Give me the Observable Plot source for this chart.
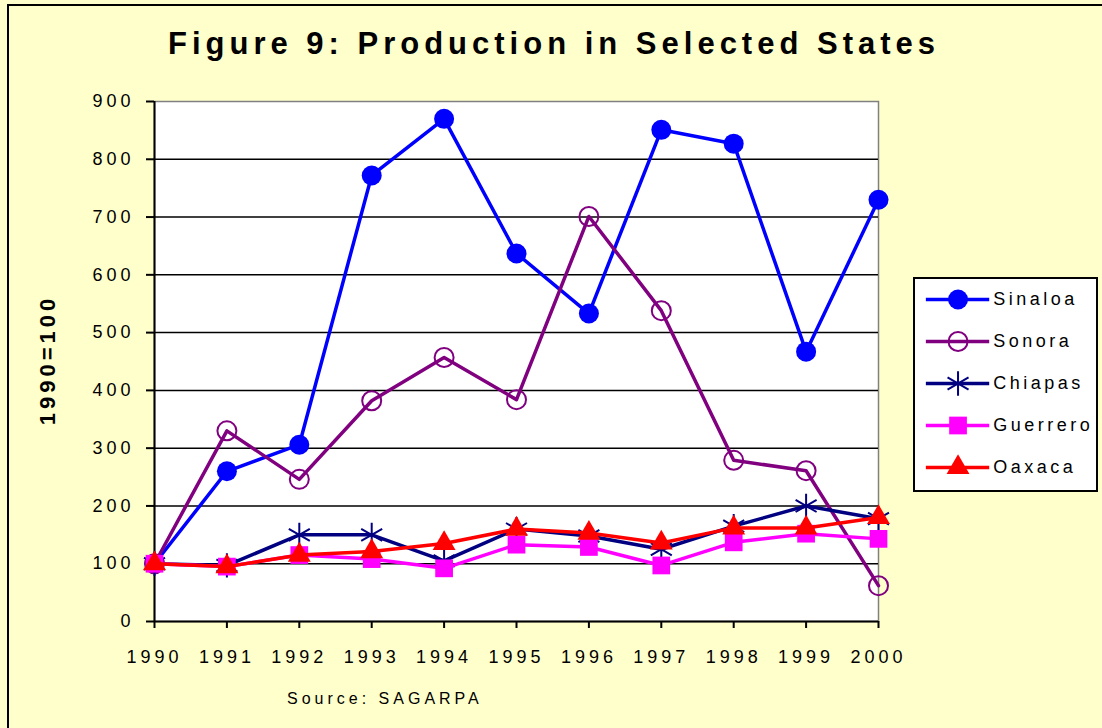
<!DOCTYPE html>
<html>
<head>
<meta charset="utf-8">
<script src="https://cdn.jsdelivr.net/npm/d3@7"></script>
<script src="https://cdn.jsdelivr.net/npm/@observablehq/plot@0.6"></script>
<style>
  html, body { margin: 0; padding: 0; background: #FFFFCC; }
  #wrap { position: relative; width: 1102px; height: 728px; background: #FFFFCC; overflow: hidden; font-family: "Liberation Sans", Arial, sans-serif; }
  #border { position: absolute; left: 7px; top: 4px; width: 1200px; height: 800px; border-left: 2px solid #000; border-top: 2px solid #000; }
  #chart { position: absolute; left: 0; top: 0; }
  #chart svg text { letter-spacing: 4px; }
  #title { position: absolute; left: 0; width: 1108px; top: 26px; text-align: center; font-weight: bold; font-size: 31px; letter-spacing: 5px; color: #000; }
  #ylabel { position: absolute; left: 48px; top: 360px; transform: translate(-50%, -50%) rotate(-90deg); font-weight: bold; font-size: 22px; letter-spacing: 4px; white-space: nowrap; }
  #source { position: absolute; left: 287px; top: 690px; font-size: 16px; letter-spacing: 4px; }
  #legend { position: absolute; left: 913px; top: 277px; width: 185px; height: 215px; border: 2px solid #000; background: #fff; box-sizing: border-box; }
  #legend svg text { letter-spacing: 3.5px; }
</style>
</head>
<body>
<div id="wrap">
  <div id="border"></div>
  <div id="chart"></div>
  <div id="title">Figure 9: Production in Selected States</div>
  <div id="ylabel">1990=100</div>
  <div id="source">Source: SAGARPA</div>
  <div id="legend"></div>
</div>
<script>
const years = [1990, 1991, 1992, 1993, 1994, 1995, 1996, 1997, 1998, 1999, 2000];
const sinaloa  = [100, 260, 306, 772, 870, 637, 533, 851, 827, 467, 730];
const sonora   = [100, 330, 246, 382, 457, 384, 701, 538, 279, 261, 62];
const chiapas  = [100, 97, 150, 150, 105, 160, 148, 125, 165, 200, 178];
const guerrero = [100, 95, 115, 108, 92, 133, 129, 97, 137, 152, 143];
const oaxaca   = [100, 95, 115, 121, 135, 160, 153, 136, 162, 162, 180];
const yTicks = [0, 100, 200, 300, 400, 500, 600, 700, 800, 900];

const seriesNames   = ["Sinaloa", "Sonora", "Chiapas", "Guerrero", "Oaxaca"];
const seriesValues  = [sinaloa, sonora, chiapas, guerrero, oaxaca];
const seriesColors  = ["#0000FF", "#800080", "#000080", "#FF00FF", "#FF0000"];
const seriesSymbols = ["circle", "circle", "asterisk", "square", "triangle"];
const seriesFilled  = [true, false, false, true, true];
const seriesR       = [10, 9.5, 11.5, 10, 8.5];

const seriesMarks = [];
seriesNames.forEach((name, i) => {
  const data = years.map((year, j) => ({year, value: seriesValues[i][j], name}));
  const c = seriesColors[i];
  seriesMarks.push(Plot.line(data, {x: "year", y: "value", stroke: c, strokeWidth: 3.5}));
  seriesMarks.push(Plot.dot(data, {
    x: "year", y: "value", symbol: () => seriesSymbols[i], r: seriesR[i],
    fill: seriesFilled[i] ? c : "none",
    stroke: c,
    strokeWidth: seriesFilled[i] ? 0 : 2
  }));
});

const chart = Plot.plot({
  width: 1102, height: 728,
  marginLeft: 154, marginRight: 224, marginTop: 101, marginBottom: 107,
  x: {domain: [1990, 2000]},
  y: {domain: [0, 900]},
  symbol: {type: "identity"},
  style: {background: "transparent", fontFamily: "'Liberation Sans', Arial, sans-serif", fontSize: "18px", color: "#000"},
  marks: [
    Plot.frame({fill: "white", stroke: "#808080", strokeWidth: 1.5}),
    Plot.ruleY(yTicks.filter(d => d > 0 && d < 900), {stroke: "#000", strokeWidth: 1.5}),
    Plot.axisY({ticks: yTicks, tickSize: 8, tickPadding: 12, strokeWidth: 2, label: null}),
    Plot.axisX({ticks: years, tickFormat: "d", tickSize: 7, tickPadding: 22, strokeWidth: 2, label: null}),
    Plot.ruleX([1990], {stroke: "#000", strokeWidth: 2}),
    Plot.ruleY([0], {stroke: "#000", strokeWidth: 2}),
    ...seriesMarks
  ]
});
document.getElementById("chart").appendChild(chart);

// Legend
const legendData = seriesNames.map((name, i) => ({name, i}));
const legendMarks = [];
legendData.forEach(({name, i}) => {
  const c = seriesColors[i];
  legendMarks.push(Plot.ruleY([name], {y: d => d, x1: 0.06, x2: 0.41, stroke: c, strokeWidth: 3.5}));
  legendMarks.push(Plot.dot([name], {
    y: d => d, x: 0.235, symbol: () => seriesSymbols[i], r: seriesR[i],
    fill: seriesFilled[i] ? c : "none", stroke: c, strokeWidth: seriesFilled[i] ? 0 : 2
  }));
  legendMarks.push(Plot.text([name], {y: d => d, x: 0.43, text: d => d, textAnchor: "start", fontSize: 18, fill: "#000"}));
});
const legend = Plot.plot({
  width: 181, height: 211,
  margin: 0,
  x: {domain: [0, 1], range: [0, 181], axis: null},
  y: {type: "point", domain: seriesNames, range: [18, 189], padding: 0, axis: null},
  symbol: {type: "identity"},
  style: {background: "transparent", fontFamily: "'Liberation Sans', Arial, sans-serif", fontSize: "18px", color: "#000"},
  marks: legendMarks
});
document.getElementById("legend").appendChild(legend);
</script>
</body>
</html>
